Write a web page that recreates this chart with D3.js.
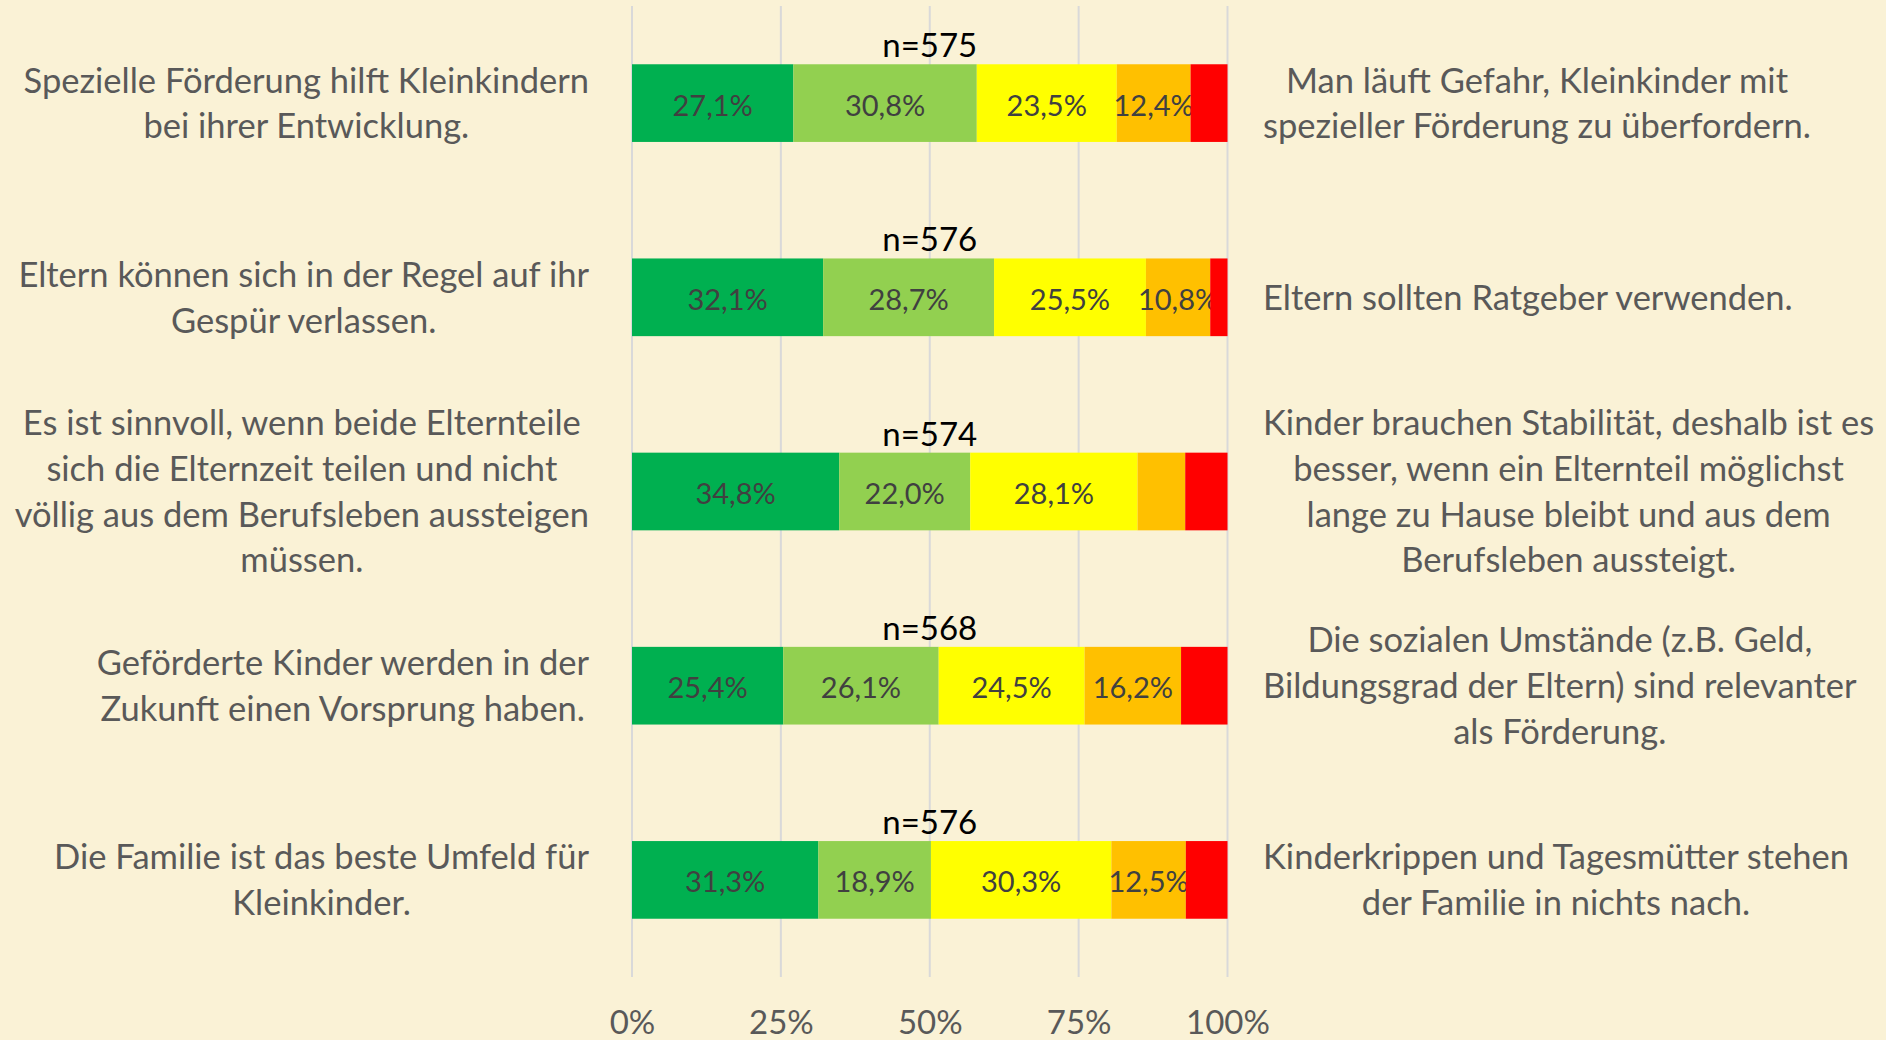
<!DOCTYPE html>
<html>
<head>
<meta charset="utf-8">
<script src="https://cdn.jsdelivr.net/npm/d3@7"></script>
<style>
  html, body { margin: 0; padding: 0; background: #faf2d6; }
  svg { display: block; }
  text { font-family: Lato, "Open Sans", sans-serif; }
</style>
</head>
<body>
<div id="chart"></div>
<script>
// statements, one per row (left = agree side, right = opposite)
const leftLabels = [
  ["Spezielle Förderung hilft Kleinkindern", "bei ihrer Entwicklung."],
  ["Eltern können sich in der Regel auf ihr", "Gespür verlassen."],
  ["Es ist sinnvoll, wenn beide Elternteile", "sich die Elternzeit teilen und nicht", "völlig aus dem Berufsleben aussteigen", "müssen."],
  ["Geförderte Kinder werden in der", "Zukunft einen Vorsprung haben."],
  ["Die Familie ist das beste Umfeld für", "Kleinkinder."]
];
const rightLabels = [
  ["Man läuft Gefahr, Kleinkinder mit", "spezieller Förderung zu überfordern."],
  ["Eltern sollten Ratgeber verwenden."],
  ["Kinder brauchen Stabilität, deshalb ist es", "besser, wenn ein Elternteil möglichst", "lange zu Hause bleibt und aus dem", "Berufsleben aussteigt."],
  ["Die sozialen Umstände (z.B. Geld,", "Bildungsgrad der Eltern) sind relevanter", "als Förderung."],
  ["Kinderkrippen und Tagesmütter stehen", "der Familie in nichts nach."]
];
const sampleSizes = [575, 576, 574, 568, 576];

// shares in percent, one array per answer level
const level1 = [27.1, 32.1, 34.8, 25.4, 31.3];
const level2 = [30.8, 28.7, 22.0, 26.1, 18.9];
const level3 = [23.5, 25.5, 28.1, 24.5, 30.3];
const level4 = [12.4, 10.8, 8.0, 16.2, 12.5];
const level5 = [6.2, 2.9, 7.1, 7.8, 7.0];

const levelKeys = ["l1", "l2", "l3", "l4", "l5"];
const levelColors = ["#00b050", "#92d050", "#ffff00", "#ffc000", "#ff0000"];
const xTicks = [0, 25, 50, 75, 100];

const width = 1886;
const height = 1040;

const rows = sampleSizes.map((n, i) => ({
  id: i,
  n: n,
  l1: level1[i], l2: level2[i], l3: level3[i], l4: level4[i], l5: level5[i]
}));

const svg = d3.select('#chart')
  .append('svg')
  .attr('width', width)
  .attr('height', height);

const x = d3.scaleLinear()
  .domain([0, 100])
  .range([632, 1227.5]);

const y = d3.scaleBand()
  .domain(rows.map(d => d.id))
  .range([6, 977])
  .paddingInner(0.6)
  .paddingOuter(0.3);

const color = d3.scaleOrdinal()
  .domain(levelKeys)
  .range(levelColors);

// gridlines
svg.append('g')
  .selectAll('line')
  .data(xTicks)
  .enter()
  .append('line')
  .attr('x1', d => x(d))
  .attr('x2', d => x(d))
  .attr('y1', 6)
  .attr('y2', 977)
  .attr('stroke', '#d9d9d9')
  .attr('stroke-width', 2);

// x axis labels
const xAxis = d3.axisBottom(x)
  .tickValues(xTicks)
  .tickFormat(d => d + '%')
  .tickSize(0)
  .tickPadding(0);

const axisG = svg.append('g')
  .attr('transform', 'translate(0,1011)')
  .call(xAxis);
axisG.select('.domain').remove();
axisG.selectAll('text')
  .attr('font-family', 'Lato, sans-serif')
  .attr('font-size', 33)
  .attr('fill', '#595959');

// stacked bars
const stacked = d3.stack().keys(levelKeys)(rows);

const layers = svg.append('g')
  .selectAll('g')
  .data(stacked)
  .enter()
  .append('g')
  .attr('fill', d => color(d.key));

layers.selectAll('rect')
  .data(d => d)
  .enter()
  .append('rect')
  .attr('x', d => x(d[0]))
  .attr('width', d => x(d[1]) - x(d[0]))
  .attr('y', d => y(d.data.id))
  .attr('height', y.bandwidth());

// data labels (only segments wide enough)
const fmt = v => v.toFixed(1).replace('.', ',') + '%';

layers.selectAll('text')
  .data(d => d.map(s => ({ s: s, v: s[1] - s[0] })))
  .enter()
  .filter(d => d.v >= 10)
  .append('text')
  .attr('x', d => x((d.s[0] + d.s[1]) / 2))
  .attr('y', d => y(d.s.data.id) + y.bandwidth() / 2 + 2)
  .attr('dy', '0.36em')
  .attr('text-anchor', 'middle')
  .attr('font-size', 29)
  .attr('fill', '#404040')
  .text(d => fmt(d.v));

// n= labels above bars
svg.append('g')
  .selectAll('text')
  .data(rows)
  .enter()
  .append('text')
  .attr('x', x(50))
  .attr('y', d => y(d.id) - 7)
  .attr('text-anchor', 'middle')
  .attr('font-size', 33)
  .attr('fill', '#000')
  .text(d => 'n=' + d.n);

// statement blocks: lines centred inside a block anchored at one edge
const lineH = 45.7;

function drawBlocks(labels, edgeX, side) {
  labels.forEach(function(lines, i) {
    const g = svg.append('g');
    const cy = y(i) + y.bandwidth() / 2;
    const top = cy - (lines.length - 1) * lineH / 2;
    const texts = g.selectAll('text')
      .data(lines)
      .enter()
      .append('text')
      .attr('y', (d, j) => top + j * lineH)
      .attr('dy', '0.36em')
      .attr('text-anchor', 'middle')
      .attr('font-size', 34.5)
      .attr('fill', '#595959')
      .text(d => d);
    let maxW = 0;
    texts.each(function() { maxW = Math.max(maxW, this.getComputedTextLength()); });
    const cx = side === 'left' ? edgeX - maxW / 2 : edgeX + maxW / 2;
    texts.attr('x', cx);
  });
}

drawBlocks(leftLabels, 589, 'left');
drawBlocks(rightLabels, 1263, 'right');
</script>
</body>
</html>
